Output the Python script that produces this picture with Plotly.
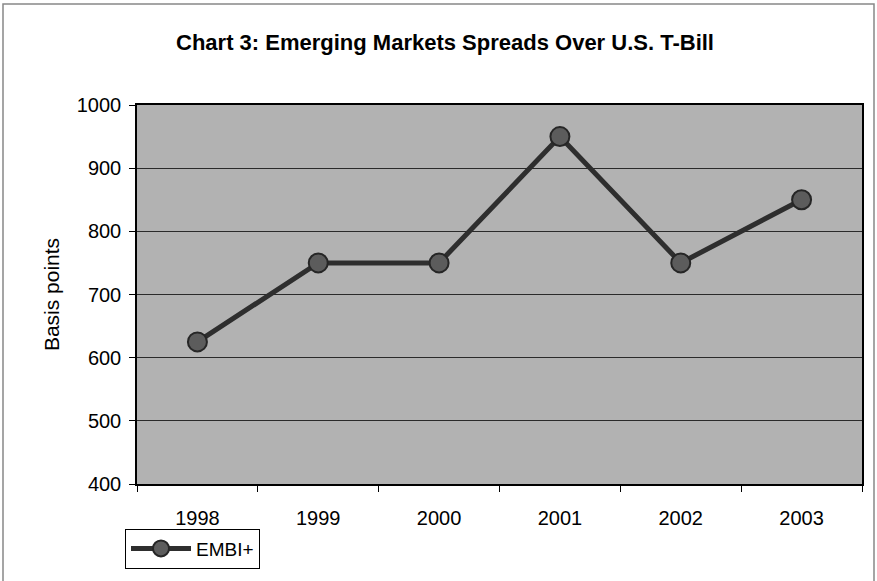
import plotly.graph_objects as go

years = ["1998", "1999", "2000", "2001", "2002", "2003"]
embi = [625, 750, 750, 950, 750, 850]

W, H = 877, 581
L, R, T, B = 137, 15, 105, 93
pw, ph = W - L - R, H - T - B

def px(x):
    return (x - L) / pw

def py(y):
    return (H - B - y) / ph

fig = go.Figure()
fig.add_trace(go.Scatter(
    x=years, y=embi, name="EMBI+", mode="lines+markers",
    line=dict(color="#2e2e2e", width=5),
    marker=dict(size=19, color="#5c5c5c", line=dict(color="#262626", width=2)),
))

fig.update_layout(
    width=W, height=H,
    margin=dict(l=L, r=R, t=T, b=B),
    paper_bgcolor="white",
    plot_bgcolor="#b2b2b2",
    font=dict(family="Liberation Sans, Arial", color="black", size=20),
    title=dict(text="<b>Chart 3: Emerging Markets Spreads Over U.S. T-Bill</b>",
               xref="container", x=445 / W, xanchor="center",
               yref="container", y=1 - 42 / H, yanchor="middle",
               font=dict(size=22)),
    xaxis=dict(type="category", range=[-0.5, 5.5], showgrid=False,
               ticks="outside", ticklen=6, tickcolor="black",
               showline=True, linecolor="black", linewidth=1.5, mirror=True,
               tickson="boundaries", ticklabelstandoff=15),
    yaxis=dict(range=[400, 1000], dtick=100, showgrid=True, gridcolor="#2a2a2a",
               gridwidth=1, ticks="outside", ticklen=6, tickcolor="black",
               showline=True, linecolor="black", linewidth=1.5, mirror=True,
               ticklabelstandoff=4,
               title=dict(text="Basis points", font=dict(size=21), standoff=11)),
    showlegend=True,
    legend=dict(x=px(125), y=py(533), xanchor="left", yanchor="top",
                bordercolor="black", borderwidth=1, bgcolor="white",
                font=dict(size=19), itemwidth=60, tracegroupgap=0),
    shapes=[dict(type="rect", xref="paper", yref="paper",
                 x0=px(3), x1=px(874), y0=py(600), y1=py(3),
                 line=dict(color="#888888", width=1.5), layer="below")],
)

fig.write_html("out.html", post_script="document.body.style.margin='0';",
               config={"displayModeBar": False})
